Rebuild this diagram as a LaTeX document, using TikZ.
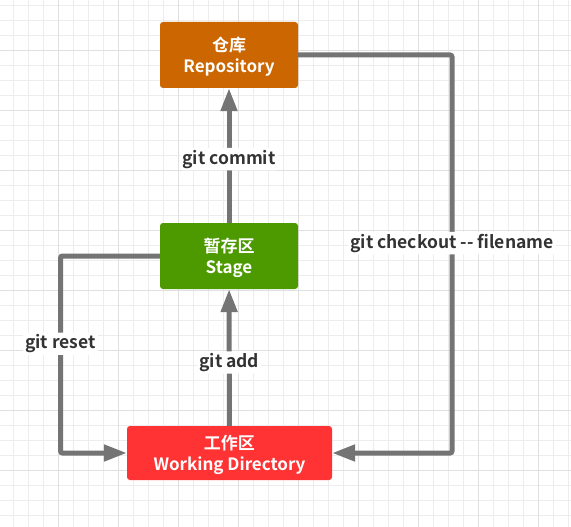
\documentclass[tikz,border=0pt]{standalone}
\usepackage{fontspec}
\setmainfont{Noto Sans CJK SC}[BoldFont={Noto Sans CJK SC Bold}]
\usetikzlibrary{arrows.meta}
\definecolor{repoc}{HTML}{CC6600}
\definecolor{stagec}{HTML}{4D9900}
\definecolor{workc}{HTML}{FF3333}
\definecolor{flowc}{HTML}{747474}
\definecolor{textc}{HTML}{333333}

\begin{document}
\begin{tikzpicture}[x=1pt, y=-1pt,
    box/.style={rounded corners=3pt, text=white, font=\bfseries\fontsize{17}{21}\selectfont, align=center, text depth=-1pt},
    flow/.style={draw=flowc, line width=5pt, rounded corners=2pt, -{Triangle[length=23pt,width=16pt]}},
    lbl/.style={fill=white, text=textc, font=\bfseries\fontsize{17.5}{21}\selectfont, inner sep=2pt, yshift=-5pt}]
                \useasboundingbox[fill=white] (0,0) rectangle (571,527);
                % grid
                \foreach \i in {0,...,37} \draw[black!7] ({13.3+15*\i},0) -- ({13.3+15*\i},527);
                \foreach \j in {0,...,34} \draw[black!7] (0,{5+15*\j}) -- (571,{5+15*\j});
                \foreach \i in {0,...,8} \draw[black!12] ({58.3+60*\i},0) -- ({58.3+60*\i},527);
                \foreach \j in {0,...,7} \draw[black!12] (0,{50+60*\j}) -- (571,{50+60*\j});

                \node[box, fill=repoc, minimum width=138pt, minimum height=66pt] (repo) at (229,55) {仓库\\Repository};
                \node[box, fill=stagec, minimum width=138pt, minimum height=66pt] (stage) at (229,256) {暂存区\\Stage};
                \node[box, fill=workc, minimum width=205pt, minimum height=54pt] (work) at (229.5,453) {工作区\\Working Directory};
                \coordinate (resetc) at (60.5,453);
                \coordinate (checkc) at (452,453);

                \draw[flow] (stage) -- node[lbl, pos=0.51] {git commit} (repo);
                \draw[flow] (work) -- node[lbl, pos=0.5] {git add} (stage);
                \draw[flow] (stage.west) -| node[lbl, pos=0.71] {git reset} (resetc) -- (work.west);
                \draw[flow] (repo.east) -| node[lbl, pos=0.73] {git checkout -{}- filename} (checkc) -- (work.east);
            \end{tikzpicture}
\end{document}
